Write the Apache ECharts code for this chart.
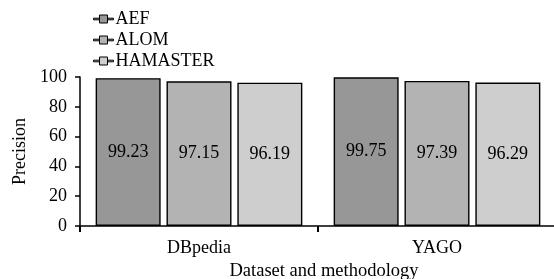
<!DOCTYPE html>
<html>
<head>
<meta charset="utf-8">
<script src="https://cdn.jsdelivr.net/npm/echarts@6/dist/echarts.min.js"></script>
<style>
  html, body { margin: 0; padding: 0; background: #fff; }
  #chart { width: 554px; height: 279px; }
</style>
</head>
<body>
<div id="chart"></div>
<script>
// 数据
const datasets = ['DBpedia', 'YAGO'];
const methods = ['AEF', 'ALOM', 'HAMASTER'];
const valuesAEF = [99.23, 99.75];
const valuesALOM = [97.15, 97.39];
const valuesHAMASTER = [96.19, 96.29];
const yTicks = [0, 20, 40, 60, 80, 100];

const colors = ['#979797', '#b3b3b3', '#cecece'];
const font = 'Liberation Serif';

const myChart = echarts.init(document.getElementById('chart'));

// 图例图标：横线 + 小方块
const legendIcon = 'path://M0,4.2h6v1.6h-6z M6,1h8v8h-8z M14,4.2h6v1.6h-6z';

function makeSeries(name, data, color) {
  return {
    name: name,
    type: 'bar',
    data: data,
    barWidth: 65,
    barGap: '9%',
    itemStyle: { color: color, borderColor: '#000', borderWidth: 1.4 },
    label: {
      show: true,
      position: 'inside',
      color: '#000',
      fontFamily: font,
      fontSize: 18
    }
  };
}

const option = {
  animation: false,
  textStyle: { fontFamily: font, color: '#000' },
  legend: {
    orient: 'vertical',
    left: 88,
    top: 5,
    itemGap: 3,
    itemWidth: 20,
    itemHeight: 10,
    icon: legendIcon,
    itemStyle: { borderColor: '#000', borderWidth: 1 },
    textStyle: { fontFamily: font, fontSize: 18, color: '#000', padding: [0, 0, 0, -3] },
    data: methods
  },
  grid: { left: 80, right: -2, top: 77, bottom: 53, outerBoundsMode: 'none', containLabel: false },
  xAxis: {
    type: 'category',
    data: datasets,
    name: 'Dataset and methodology',
    nameLocation: 'middle',
    nameGap: 30,
    nameTextStyle: { fontFamily: font, fontSize: 18.5, color: '#000', verticalAlign: 'top', padding: [0, 0, 0, 12] },
    axisLine: { lineStyle: { color: '#000', width: 1.5 } },
    axisTick: { show: true, length: 6, lineStyle: { color: '#000', width: 2 } },
    axisLabel: { fontFamily: font, fontSize: 18, color: '#000', margin: 13 }
  },
  yAxis: {
    type: 'value',
    min: yTicks[0],
    max: yTicks[yTicks.length - 1],
    interval: yTicks[1] - yTicks[0],
    name: 'Precision',
    nameLocation: 'middle',
    nameGap: 49,
    nameTextStyle: { fontFamily: font, fontSize: 18, color: '#000' },
    axisLine: { show: true, lineStyle: { color: '#000', width: 1.5 } },
    axisTick: { show: true, length: 5, lineStyle: { color: '#000', width: 1.5 } },
    splitLine: { show: false },
    axisLabel: { fontFamily: font, fontSize: 18, color: '#000', margin: 13 }
  },
  series: [
    makeSeries(methods[0], valuesAEF, colors[0]),
    makeSeries(methods[1], valuesALOM, colors[1]),
    makeSeries(methods[2], valuesHAMASTER, colors[2])
  ]
};

myChart.setOption(option);
window.addEventListener('resize', () => myChart.resize());
</script>
</body>
</html>
